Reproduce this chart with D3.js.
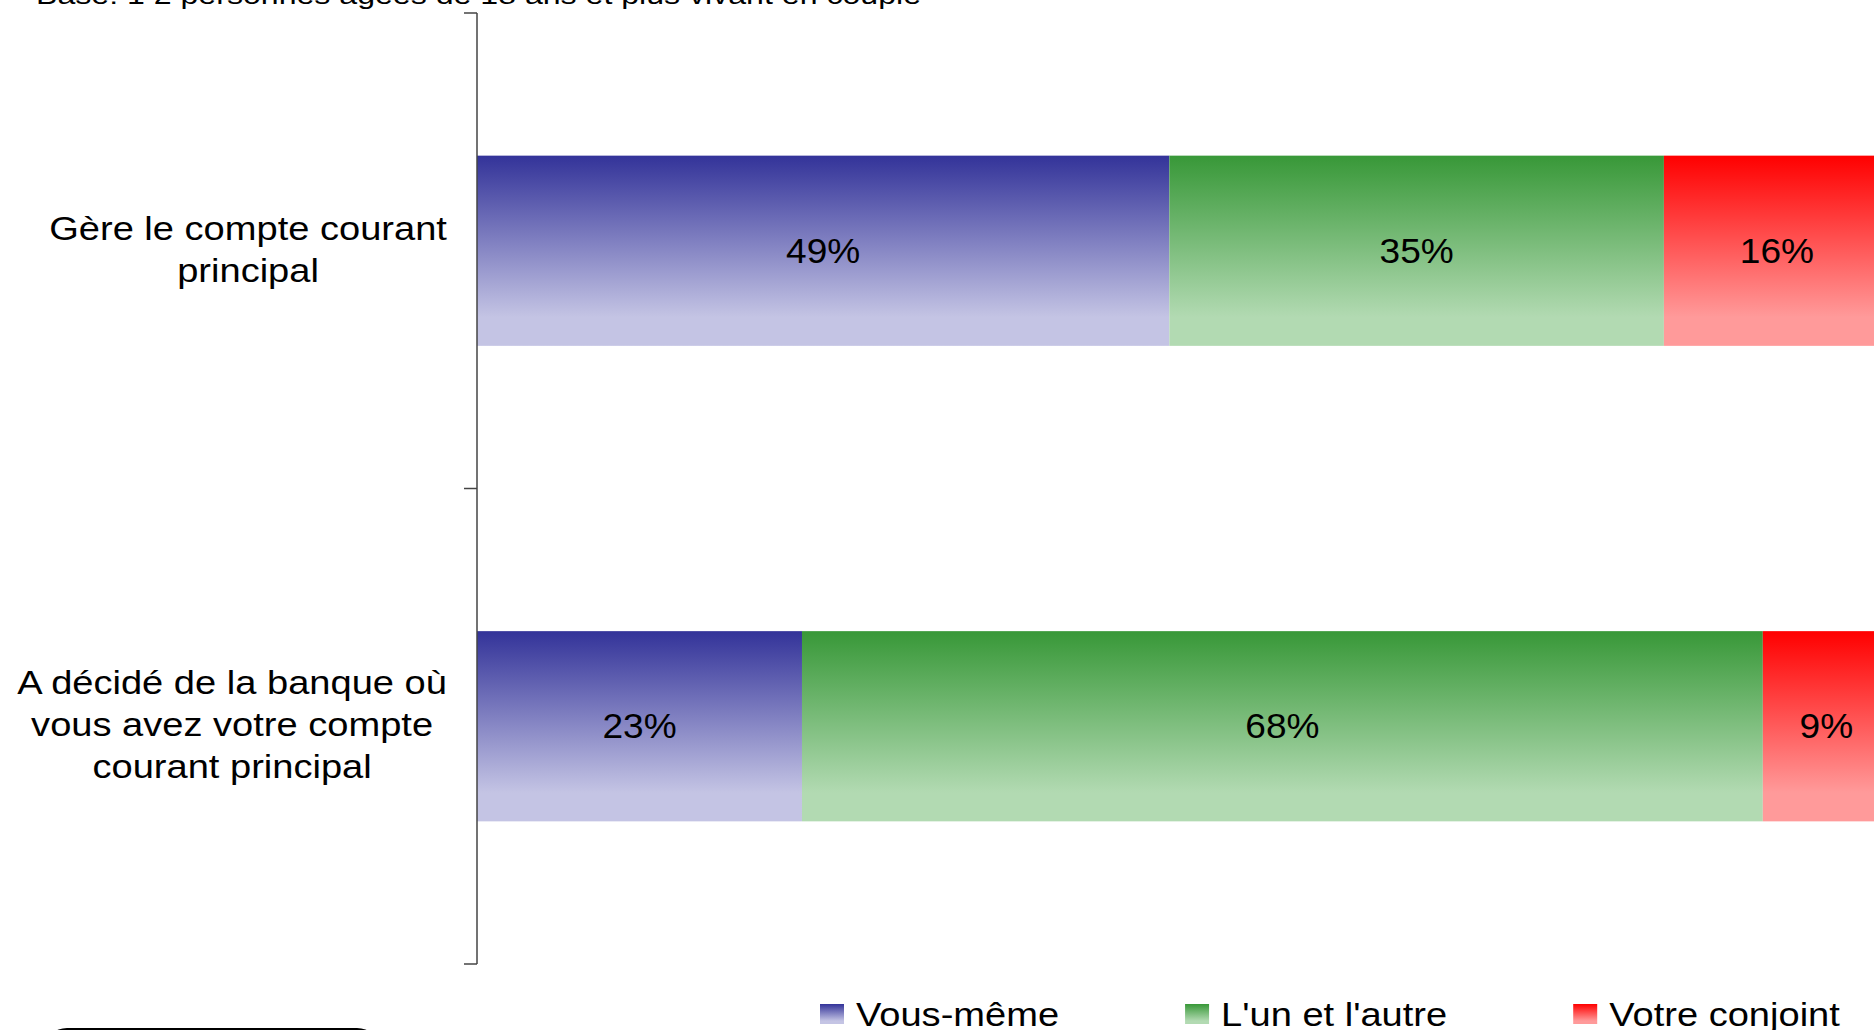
<!DOCTYPE html>
<html>
<head>
<meta charset="utf-8">
<script src="https://cdn.jsdelivr.net/npm/d3@7"></script>
<style>
  html, body { margin: 0; padding: 0; background: #fff; overflow: hidden; }
  text { font-family: "Liberation Sans", Arial, sans-serif; fill: #000; }
</style>
</head>
<body>
<svg id="chart" width="1874" height="1030"></svg>
<script>
// data
var categoryLines = [
  ["Gère le compte courant", "principal"],
  ["A décidé de la banque où", "vous avez votre compte", "courant principal"]
];
var seriesNames = ["Vous-même", "L'un et l'autre", "Votre conjoint"];
var vousMeme = [49, 23];
var unEtAutre = [35, 68];
var conjoint = [16, 9];
var baseNote = "Base: 1 2 personnes âgées de 18 ans et plus vivant en couple";

var gradColors = [
  ["#333399", "#c4c4e4"],
  ["#389838", "#b2dab2"],
  ["#ff0000", "#ff9a9a"]
];

var svg = d3.select("#chart");
var margin = { left: 477, top: 13, bottom: 964 };

// gradients
var defs = svg.append("defs");
gradColors.forEach(function(c, i) {
  var g = defs.append("linearGradient").attr("id", "grad" + i)
    .attr("x1", 0).attr("y1", 0).attr("x2", 0).attr("y2", 1);
  g.append("stop").attr("offset", "0%").attr("stop-color", c[0]);
  g.append("stop").attr("offset", "85%").attr("stop-color", c[1]);
  g.append("stop").attr("offset", "100%").attr("stop-color", c[1]);
});

var rows = categoryLines.map(function(lines, i) {
  return { idx: i, values: [vousMeme[i], unEtAutre[i], conjoint[i]] };
});

var x = d3.scaleLinear().domain([0, 100]).range([margin.left, 1890]);
var y = d3.scaleBand().domain(d3.range(rows.length))
  .range([margin.top, margin.bottom]).paddingInner(0.6).paddingOuter(0.3);

// stretched text helper
function stretchText(sel, px, py, sx, str, size, anchor) {
  return sel.append("text")
    .attr("transform", "translate(" + px + "," + py + ") scale(" + sx + ",1)")
    .attr("font-size", size)
    .attr("text-anchor", anchor || "start")
    .text(str);
}

// top note (clipped at top, as in the source)
svg.append("text")
  .attr("x", 36).attr("y", 4)
  .attr("font-size", 26)
  .attr("textLength", 885)
  .attr("lengthAdjust", "spacingAndGlyphs")
  .text(baseNote);

// bars
var stack = d3.stack().keys([0, 1, 2]).value(function(d, k) { return d.values[k]; });
var layers = stack(rows);

var barG = svg.append("g");
layers.forEach(function(layer, k) {
  barG.selectAll(".seg" + k).data(layer).enter().append("rect")
    .attr("x", function(d) { return x(d[0]); })
    .attr("y", function(d, i) { return y(i); })
    .attr("width", function(d) { return x(d[1]) - x(d[0]); })
    .attr("height", y.bandwidth())
    .attr("fill", "url(#grad" + k + ")");

  layer.forEach(function(d, i) {
    stretchText(svg, (x(d[0]) + x(d[1])) / 2, y(i) + y.bandwidth() / 2 + 12,
      1.06, (d[1] - d[0]) + "%", 35, "middle");
  });
});

// axis
var axis = d3.axisLeft(y).tickSize(0).tickFormat("");
var axG = svg.append("g").attr("transform", "translate(" + margin.left + ",0)").call(axis);
axG.select(".domain").attr("stroke", "#444").attr("stroke-width", 1.5)
  .attr("d", "M0," + margin.top + "V" + margin.bottom);
[margin.top, (margin.top + margin.bottom) / 2, margin.bottom].forEach(function(t) {
  axG.append("line").attr("x1", -13).attr("x2", 0).attr("y1", t).attr("y2", t)
    .attr("stroke", "#444").attr("stroke-width", 1.5);
});

// category labels
var lh = 42, catSx = 1.12, catRight = 447;
categoryLines.forEach(function(lines, i) {
  var cy = y(i) + y.bandwidth() / 2;
  var first = cy - (lines.length - 1) / 2 * lh - 2 + 12;
  var g = svg.append("g");
  var texts = lines.map(function(l, j) {
    return g.append("text").attr("font-size", 34).attr("text-anchor", "middle")
      .attr("y", first + j * lh).text(l);
  });
  var maxW = d3.max(texts, function(t) { return t.node().getComputedTextLength(); }) * catSx;
  var cx = catRight - maxW / 2;
  texts.forEach(function(t) {
    var yy = t.attr("y");
    t.attr("y", null).attr("transform", "translate(" + cx + "," + yy + ") scale(" + catSx + ",1)");
  });
});

// legend
var lx = 820, legSx = 1.12;
seriesNames.forEach(function(name, k) {
  svg.append("rect").attr("x", lx).attr("y", 1004).attr("width", 24).attr("height", 20)
    .attr("fill", "url(#grad" + k + ")");
  var t = stretchText(svg, lx + 36, 1026, legSx, name, 34);
  var w = t.node().getComputedTextLength() * legSx;
  lx = lx + 36 + w + 126;
});

// logo edge at bottom left
svg.append("rect").attr("x", 45).attr("y", 1028).attr("width", 334).attr("height", 40)
  .attr("rx", 22).attr("fill", "#000");
</script>
</body>
</html>
